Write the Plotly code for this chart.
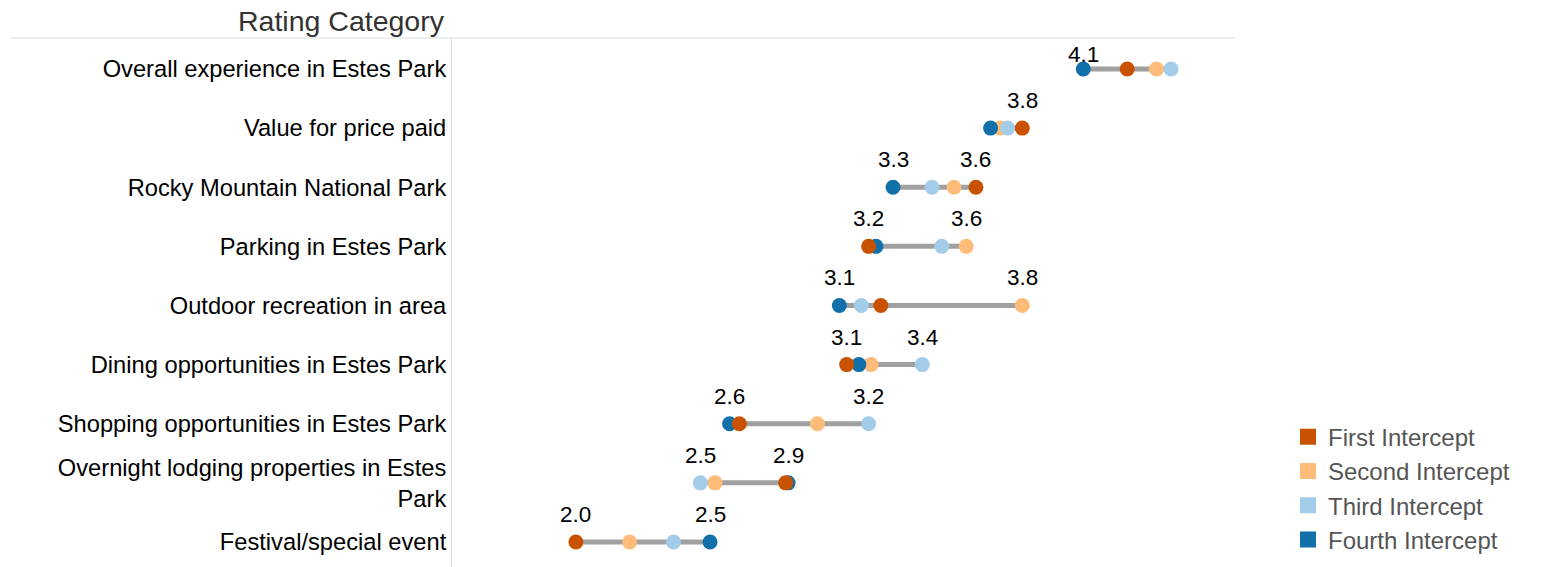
import plotly.graph_objects as go

categories = [
    "Overall experience in Estes Park",
    "Value for price paid",
    "Rocky Mountain National Park",
    "Parking in Estes Park",
    "Outdoor recreation in area",
    "Dining opportunities in Estes Park",
    "Shopping opportunities in Estes Park",
    "Overnight lodging properties in Estes<br>Park",
    "Festival/special event",
]
series_names = ["First Intercept", "Second Intercept", "Third Intercept", "Fourth Intercept"]
first = [4.25, 3.82, 3.63, 3.19, 3.24, 3.10, 2.66, 2.85, 1.99]
second = [4.37, 3.73, 3.54, 3.59, 3.82, 3.20, 2.98, 2.56, 2.21]
third = [4.43, 3.76, 3.45, 3.49, 3.16, 3.41, 3.19, 2.50, 2.39]
fourth = [4.07, 3.69, 3.29, 3.22, 3.07, 3.15, 2.62, 2.86, 2.54]
show_min_label = [True, False, True, True, True, True, True, True, True]
show_max_label = [False, True, True, True, True, True, True, True, True]

series = [first, second, third, fourth]
colors = ["#c85200", "#ffbc79", "#a3cce9", "#1170aa"]
FONT = "Arial, Liberation Sans, sans-serif"

mins = [min(v) for v in zip(*series)]
maxs = [max(v) for v in zip(*series)]

fig = go.Figure()

# connecting lines
lx, ly = [], []
for c, a, b in zip(categories, mins, maxs):
    lx += [a, b, None]
    ly += [c, c, None]
fig.add_trace(go.Scatter(x=lx, y=ly, mode="lines", line=dict(color="#a0a0a0", width=5),
                         showlegend=False, hoverinfo="skip"))

# dots (draw order: Second, Third, Fourth, First)
for i in [1, 2, 3, 0]:
    fig.add_trace(go.Scatter(x=series[i], y=categories, mode="markers",
                             marker=dict(size=15, color=colors[i]),
                             name=series_names[i], showlegend=False))

# legend entries
for i in range(4):
    fig.add_trace(go.Scatter(x=[None], y=[None], mode="markers",
                             marker=dict(size=22, symbol="square", color=colors[i]),
                             name=series_names[i], showlegend=True))

# min / max labels (kept inside the pane for the top row)
for r, (c, a, b, sa, sb) in enumerate(zip(categories, mins, maxs, show_min_label, show_max_label)):
    for v, s in ((a, sa), (b, sb)):
        if s:
            fig.add_annotation(x=v, y=c, xref="x", yref="y", text=f"{v:.1f}",
                               showarrow=False, yanchor="bottom", yshift=13 if r > 0 else 0,
                               font=dict(family=FONT, size=22.5, color="#000000"))

# header
fig.add_annotation(x=0, y=1, xref="paper", yref="paper", text="Rating Category",
                   showarrow=False, xanchor="right", yanchor="bottom", xshift=-5, yshift=-1,
                   font=dict(family=FONT, size=28.5, color="#333333"))
fig.add_shape(type="line", xref="paper", yref="paper", x0=(10 - 452) / 783, x1=1, y0=1, y1=1,
              line=dict(color="#dcdcdc", width=1))

fig.update_layout(
    width=1564, height=567,
    margin=dict(l=452, r=329, t=38, b=0),
    paper_bgcolor="white", plot_bgcolor="white",
    font=dict(family=FONT),
    xaxis=dict(range=[1.482, 4.692], showgrid=False, zeroline=False, showticklabels=False,
               ticks="", showline=False),
    yaxis=dict(type="category", categoryorder="array", categoryarray=categories,
               range=[8.423, -0.524], showgrid=False, zeroline=False,
               showline=True, linecolor="#dcdcdc", linewidth=1,
               ticks="", ticklen=0,
               tickfont=dict(family=FONT, size=23.7, color="#000000")),
    legend=dict(x=1.0677, y=0.01, xanchor="left", yanchor="bottom",
                font=dict(family=FONT, size=24, color="#555555"),
                bgcolor="rgba(0,0,0,0)", traceorder="normal"),
    showlegend=True,
)

fig.write_html("out.html")
